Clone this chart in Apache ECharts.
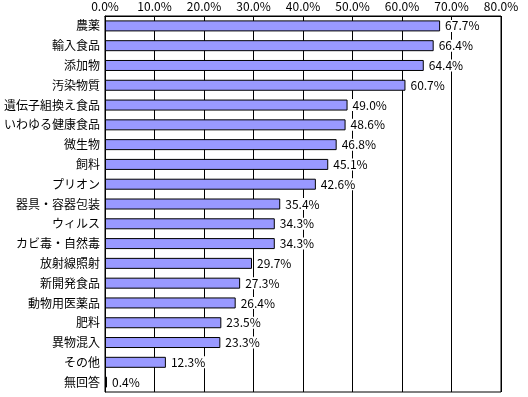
<!DOCTYPE html>
<html>
<head>
<meta charset="utf-8">
<script src="https://cdn.jsdelivr.net/npm/echarts@6/dist/echarts.min.js"></script>
<style>
  html, body { margin: 0; padding: 0; background: #fff; }
  #chart { width: 528px; height: 397px; }
</style>
</head>
<body>
<div id="chart"></div>
<script>
const categories = ["農薬", "輸入食品", "添加物", "汚染物質", "遺伝子組換え食品", "いわゆる健康食品", "微生物", "飼料", "プリオン", "器具・容器包装", "ウィルス", "カビ毒・自然毒", "放射線照射", "新開発食品", "動物用医薬品", "肥料", "異物混入", "その他", "無回答"];
const values = [67.7, 66.4, 64.4, 60.7, 49.0, 48.6, 46.8, 45.1, 42.6, 35.4, 34.3, 34.3, 29.7, 27.3, 26.4, 23.5, 23.3, 12.3, 0.4];

const font = "'Noto Sans CJK JP', sans-serif";
const chart = echarts.init(document.getElementById("chart"), null, { renderer: "canvas" });

chart.setOption({
  animation: false,
  grid: {
    left: 105, right: 27, top: 16, bottom: 5,
    show: true, borderColor: "#000", borderWidth: 1, backgroundColor: "#fff"
  },
  xAxis: {
    type: "value",
    position: "top",
    min: 0, max: 80, interval: 10,
    axisLine: { show: true, lineStyle: { color: "#000" } },
    axisTick: { show: false },
    splitLine: { show: true, lineStyle: { color: "#000", width: 1 } },
    axisLabel: {
      color: "#000", fontSize: 12, fontFamily: font, margin: 4,
      formatter: v => v.toFixed(1) + "%"
    }
  },
  yAxis: {
    type: "category",
    data: categories,
    inverse: true,
    axisLine: { show: true, lineStyle: { color: "#000" } },
    axisTick: { show: false },
    axisLabel: { color: "#000", fontSize: 12, fontFamily: font, margin: 5 }
  },
  series: [{
    type: "bar",
    data: values,
    barWidth: 11,
    itemStyle: { color: "#9999ff", borderColor: "#000", borderWidth: 1 },
    label: {
      show: true,
      position: "right",
      distance: 4,
      color: "#000",
      fontSize: 12,
      fontFamily: font,
      backgroundColor: "#fff",
      padding: [0, 1],
      formatter: p => p.value.toFixed(1) + "%"
    }
  }]
});
</script>
</body>
</html>
